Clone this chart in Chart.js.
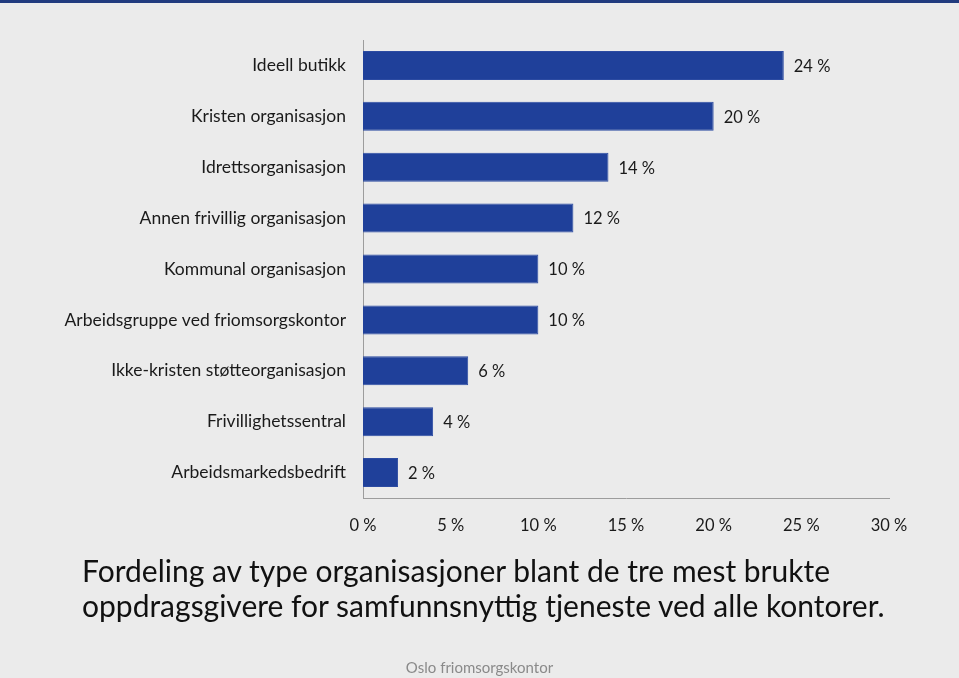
<!DOCTYPE html>
<html>
<head>
<meta charset="utf-8">
<script src="https://cdn.jsdelivr.net/npm/chart.js@4"></script>
<style>
  html, body { margin: 0; padding: 0; }
  body {
    width: 959px; height: 678px; position: relative; overflow: hidden;
    background: #ebebeb; font-family: Lato, "Open Sans", sans-serif;
  }
  #topbar { position: absolute; left: 0; top: 0; width: 959px; height: 3px; background: #213b7e; }
  #chart-wrap { position: absolute; left: 0; top: 0; width: 959px; height: 678px; }
  #title {
    position: absolute; left: 82px; top: 553px; font-size: 30px; line-height: 35px;
    color: #111; white-space: nowrap;
  }
  #footer {
    position: absolute; left: 0; width: 959px; top: 658px; text-align: center;
    font-size: 15px; color: #8a8a8a;
  }
</style>
</head>
<body>
<div id="topbar"></div>
<div id="chart-wrap"><canvas id="chart"></canvas></div>
<div id="title">Fordeling av type organisasjoner blant de tre mest brukte<br>oppdragsgivere for samfunnsnyttig tjeneste ved alle kontorer.</div>
<div id="footer">Oslo friomsorgskontor</div>
<script>
const categories = [
  'Ideell butikk',
  'Kristen organisasjon',
  'Idrettsorganisasjon',
  'Annen frivillig organisasjon',
  'Kommunal organisasjon',
  'Arbeidsgruppe ved friomsorgskontor',
  'Ikke-kristen støtteorganisasjon',
  'Frivillighetssentral',
  'Arbeidsmarkedsbedrift'
];
const shares = [24, 20, 14, 12, 10, 10, 6, 4, 2];
const xTicks = [0, 5, 10, 15, 20, 25, 30];

const BAR_COLOR = '#1f409a';
const TEXT_COLOR = '#1a1a1a';
const AXIS_COLOR = '#9c9c9c';
const FONT = 'Lato, "Open Sans", sans-serif';

// draws "24 %" etc right of each bar
const valueLabels = {
  id: 'valueLabels',
  afterDatasetsDraw(chart) {
    const ctx = chart.ctx;
    const meta = chart.getDatasetMeta(0);
    ctx.save();
    ctx.font = '16.5px ' + FONT;
    ctx.fillStyle = TEXT_COLOR;
    ctx.textAlign = 'left';
    ctx.textBaseline = 'middle';
    meta.data.forEach((bar, i) => {
      ctx.fillText(shares[i] + ' %', bar.x + 10, bar.y + 1);
    });
    ctx.restore();
  }
};

const canvasContext = document.getElementById('chart').getContext('2d');
new Chart(canvasContext, {
  type: 'bar',
  data: {
    labels: categories,
    datasets: [{
      data: shares,
      backgroundColor: BAR_COLOR,
      borderColor: '#2c4ba2',
      borderWidth: 1,
      barPercentage: 0.57,
      categoryPercentage: 1
    }]
  },
  options: {
    indexAxis: 'y',
    responsive: true,
    maintainAspectRatio: false,
    animation: false,
    layout: { padding: { top: 40, right: 70, bottom: 140, left: 0 } },
    plugins: {
      legend: { display: false },
      tooltip: { enabled: false }
    },
    scales: {
      x: {
        min: 0,
        max: 30,
        afterBuildTicks(scale) {
          scale.ticks = xTicks.map(v => ({ value: v }));
        },
        afterFit(scale) { scale.height = 40; },
        grid: { display: false, drawTicks: false },
        border: { display: true, color: AXIS_COLOR, width: 1 },
        ticks: {
          padding: 18,
          color: TEXT_COLOR,
          font: { family: FONT, size: 16.5 },
          maxRotation: 0,
          callback: v => v + ' %'
        }
      },
      y: {
        afterFit(scale) { scale.width = 363; },
        grid: { display: false, drawTicks: false },
        border: { display: true, color: AXIS_COLOR, width: 1 },
        ticks: {
          padding: 17,
          color: TEXT_COLOR,
          font: { family: FONT, size: 17.5 }
        }
      }
    }
  },
  plugins: [valueLabels]
});
</script>
</body>
</html>
